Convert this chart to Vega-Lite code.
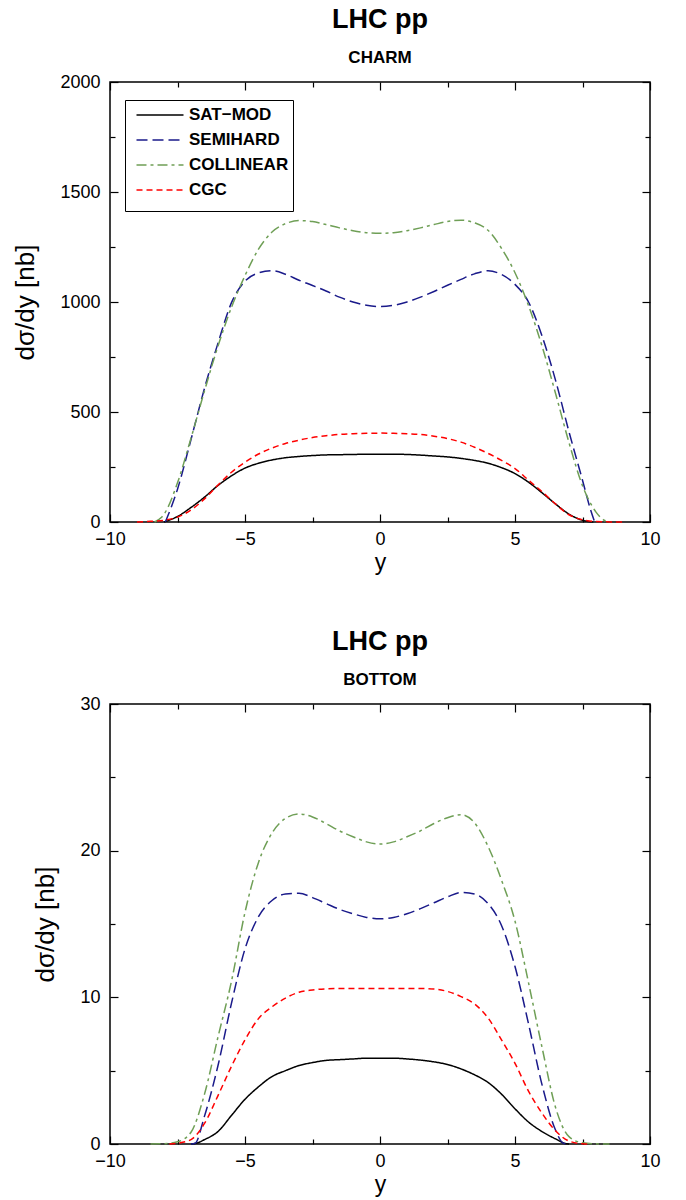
{
  "$schema": "https://vega.github.io/schema/vega-lite/v6.json",
  "padding": {"left": 12, "top": 5, "right": 10, "bottom": 0},
  "background": "white",
  "config": {
    "font": "Liberation Sans",
    "view": {"stroke": "black", "strokeWidth": 1.5},
    "axis": {
      "domain": false,
      "grid": false,
      "ticks": true,
      "zindex": 1,
      "tickColor": "black",
      "tickWidth": 1.2,
      "tickOpacity": 1,
      "tickSize": -8,
      "labelColor": "black",
      "labelFont": "Liberation Sans",
      "labelFontSize": 18,
      "titleColor": "black",
      "titleFont": "Liberation Sans",
      "titleFontSize": 26,
      "titleFontWeight": "normal"
    },
    "legend": {
      "orient": "none",
      "legendX": 15,
      "legendY": 18,
      "titleOrient": "bottom",
      "titleFontSize": 9,
      "titlePadding": 0,
      "symbolType": "M-2.35,0H2.35",
      "symbolSize": 400,
      "symbolStrokeWidth": 1.5,
      "labelFont": "Liberation Sans",
      "labelFontSize": 17,
      "labelFontWeight": "bold",
      "labelColor": "black",
      "labelOffset": 18,
      "symbolOffset": 20,
      "strokeColor": "black",
      "fillColor": "white",
      "padding": 4,
      "rowPadding": 6
    },
    "concat": {"spacing": 52}
  },
  "resolve": {"scale": {"color": "independent", "strokeDash": "independent"}},
  "datasets": {
    "charm": [
      {"model": "SAT-MOD", "x": -8, "v": 0}, {"model": "SAT-MOD", "x": -7.5, "v": 25}, {"model": "SAT-MOD", "x": -7, "v": 66}, {"model": "SAT-MOD", "x": -6.5, "v": 113}, {"model": "SAT-MOD", "x": -6, "v": 166}, {"model": "SAT-MOD", "x": -5.5, "v": 210}, {"model": "SAT-MOD", "x": -5, "v": 245}, {"model": "SAT-MOD", "x": -4.5, "v": 267}, {"model": "SAT-MOD", "x": -4, "v": 282}, {"model": "SAT-MOD", "x": -3.5, "v": 292}, {"model": "SAT-MOD", "x": -3, "v": 298}, {"model": "SAT-MOD", "x": -2.5, "v": 302}, {"model": "SAT-MOD", "x": -2, "v": 305}, {"model": "SAT-MOD", "x": -1.5, "v": 306}, {"model": "SAT-MOD", "x": -1, "v": 307}, {"model": "SAT-MOD", "x": -0.5, "v": 308}, {"model": "SAT-MOD", "x": 0, "v": 308}, {"model": "SAT-MOD", "x": 0.5, "v": 308}, {"model": "SAT-MOD", "x": 1, "v": 307}, {"model": "SAT-MOD", "x": 1.5, "v": 304}, {"model": "SAT-MOD", "x": 2, "v": 300}, {"model": "SAT-MOD", "x": 2.5, "v": 296}, {"model": "SAT-MOD", "x": 3, "v": 289}, {"model": "SAT-MOD", "x": 3.5, "v": 280}, {"model": "SAT-MOD", "x": 4, "v": 267}, {"model": "SAT-MOD", "x": 4.5, "v": 247}, {"model": "SAT-MOD", "x": 5, "v": 220}, {"model": "SAT-MOD", "x": 5.5, "v": 181}, {"model": "SAT-MOD", "x": 6, "v": 133}, {"model": "SAT-MOD", "x": 6.5, "v": 82}, {"model": "SAT-MOD", "x": 7, "v": 36}, {"model": "SAT-MOD", "x": 7.5, "v": 8}, {"model": "SAT-MOD", "x": 7.9, "v": 0},
      {"model": "SEMIHARD", "x": -7.95, "v": 0}, {"model": "SEMIHARD", "x": -7.5, "v": 149}, {"model": "SEMIHARD", "x": -7, "v": 375}, {"model": "SEMIHARD", "x": -6.5, "v": 608}, {"model": "SEMIHARD", "x": -6, "v": 813}, {"model": "SEMIHARD", "x": -5.5, "v": 997}, {"model": "SEMIHARD", "x": -5, "v": 1095}, {"model": "SEMIHARD", "x": -4.5, "v": 1132}, {"model": "SEMIHARD", "x": -4, "v": 1142}, {"model": "SEMIHARD", "x": -3.5, "v": 1126}, {"model": "SEMIHARD", "x": -3, "v": 1099}, {"model": "SEMIHARD", "x": -2.5, "v": 1075}, {"model": "SEMIHARD", "x": -2, "v": 1050}, {"model": "SEMIHARD", "x": -1.5, "v": 1022}, {"model": "SEMIHARD", "x": -1, "v": 1000}, {"model": "SEMIHARD", "x": -0.5, "v": 985}, {"model": "SEMIHARD", "x": 0, "v": 979}, {"model": "SEMIHARD", "x": 0.5, "v": 985}, {"model": "SEMIHARD", "x": 1, "v": 1000}, {"model": "SEMIHARD", "x": 1.5, "v": 1022}, {"model": "SEMIHARD", "x": 2, "v": 1048}, {"model": "SEMIHARD", "x": 2.5, "v": 1076}, {"model": "SEMIHARD", "x": 3, "v": 1103}, {"model": "SEMIHARD", "x": 3.5, "v": 1128}, {"model": "SEMIHARD", "x": 4, "v": 1142}, {"model": "SEMIHARD", "x": 4.5, "v": 1125}, {"model": "SEMIHARD", "x": 5, "v": 1080}, {"model": "SEMIHARD", "x": 5.5, "v": 1000}, {"model": "SEMIHARD", "x": 6, "v": 846}, {"model": "SEMIHARD", "x": 6.5, "v": 645}, {"model": "SEMIHARD", "x": 7, "v": 410}, {"model": "SEMIHARD", "x": 7.5, "v": 190}, {"model": "SEMIHARD", "x": 7.8, "v": 55}, {"model": "SEMIHARD", "x": 7.95, "v": 0},
      {"model": "COLLINEAR", "x": -8.35, "v": 0}, {"model": "COLLINEAR", "x": -8.1, "v": 20}, {"model": "COLLINEAR", "x": -8, "v": 35}, {"model": "COLLINEAR", "x": -7.5, "v": 178}, {"model": "COLLINEAR", "x": -7, "v": 381}, {"model": "COLLINEAR", "x": -6.5, "v": 596}, {"model": "COLLINEAR", "x": -6, "v": 800}, {"model": "COLLINEAR", "x": -5.5, "v": 976}, {"model": "COLLINEAR", "x": -5, "v": 1120}, {"model": "COLLINEAR", "x": -4.5, "v": 1240}, {"model": "COLLINEAR", "x": -4, "v": 1318}, {"model": "COLLINEAR", "x": -3.5, "v": 1356}, {"model": "COLLINEAR", "x": -3, "v": 1370}, {"model": "COLLINEAR", "x": -2.5, "v": 1366}, {"model": "COLLINEAR", "x": -2, "v": 1352}, {"model": "COLLINEAR", "x": -1.5, "v": 1337}, {"model": "COLLINEAR", "x": -1, "v": 1324}, {"model": "COLLINEAR", "x": -0.5, "v": 1315}, {"model": "COLLINEAR", "x": 0, "v": 1312}, {"model": "COLLINEAR", "x": 0.5, "v": 1315}, {"model": "COLLINEAR", "x": 1, "v": 1324}, {"model": "COLLINEAR", "x": 1.5, "v": 1337}, {"model": "COLLINEAR", "x": 2, "v": 1352}, {"model": "COLLINEAR", "x": 2.5, "v": 1366}, {"model": "COLLINEAR", "x": 3, "v": 1372}, {"model": "COLLINEAR", "x": 3.5, "v": 1360}, {"model": "COLLINEAR", "x": 4, "v": 1326}, {"model": "COLLINEAR", "x": 4.5, "v": 1244}, {"model": "COLLINEAR", "x": 5, "v": 1133}, {"model": "COLLINEAR", "x": 5.5, "v": 984}, {"model": "COLLINEAR", "x": 6, "v": 800}, {"model": "COLLINEAR", "x": 6.5, "v": 585}, {"model": "COLLINEAR", "x": 7, "v": 361}, {"model": "COLLINEAR", "x": 7.5, "v": 165}, {"model": "COLLINEAR", "x": 8, "v": 45}, {"model": "COLLINEAR", "x": 8.3, "v": 8}, {"model": "COLLINEAR", "x": 8.5, "v": 0},
      {"model": "CGC", "x": -9, "v": 0}, {"model": "CGC", "x": -8.5, "v": 3}, {"model": "CGC", "x": -8, "v": 8}, {"model": "CGC", "x": -7.5, "v": 22}, {"model": "CGC", "x": -7, "v": 55}, {"model": "CGC", "x": -6.5, "v": 105}, {"model": "CGC", "x": -6, "v": 168}, {"model": "CGC", "x": -5.5, "v": 226}, {"model": "CGC", "x": -5, "v": 272}, {"model": "CGC", "x": -4.5, "v": 309}, {"model": "CGC", "x": -4, "v": 336}, {"model": "CGC", "x": -3.5, "v": 357}, {"model": "CGC", "x": -3, "v": 372}, {"model": "CGC", "x": -2.5, "v": 384}, {"model": "CGC", "x": -2, "v": 392}, {"model": "CGC", "x": -1.5, "v": 398}, {"model": "CGC", "x": -1, "v": 401}, {"model": "CGC", "x": -0.5, "v": 403}, {"model": "CGC", "x": 0, "v": 404}, {"model": "CGC", "x": 0.5, "v": 403}, {"model": "CGC", "x": 1, "v": 401}, {"model": "CGC", "x": 1.5, "v": 398}, {"model": "CGC", "x": 2, "v": 390}, {"model": "CGC", "x": 2.5, "v": 379}, {"model": "CGC", "x": 3, "v": 363}, {"model": "CGC", "x": 3.5, "v": 340}, {"model": "CGC", "x": 4, "v": 312}, {"model": "CGC", "x": 4.5, "v": 280}, {"model": "CGC", "x": 5, "v": 243}, {"model": "CGC", "x": 5.5, "v": 190}, {"model": "CGC", "x": 6, "v": 138}, {"model": "CGC", "x": 6.5, "v": 82}, {"model": "CGC", "x": 7, "v": 33}, {"model": "CGC", "x": 7.5, "v": 10}, {"model": "CGC", "x": 8, "v": 2}, {"model": "CGC", "x": 8.5, "v": 0.5}, {"model": "CGC", "x": 9, "v": 0}
    ],
    "bottom": [
      {"model": "SAT-MOD", "x": -7, "v": 0}, {"model": "SAT-MOD", "x": -6.8, "v": 0.05}, {"model": "SAT-MOD", "x": -6.5, "v": 0.3}, {"model": "SAT-MOD", "x": -6, "v": 0.85}, {"model": "SAT-MOD", "x": -5.5, "v": 1.95}, {"model": "SAT-MOD", "x": -5, "v": 3.05}, {"model": "SAT-MOD", "x": -4.5, "v": 3.9}, {"model": "SAT-MOD", "x": -4, "v": 4.6}, {"model": "SAT-MOD", "x": -3.5, "v": 5.0}, {"model": "SAT-MOD", "x": -3, "v": 5.35}, {"model": "SAT-MOD", "x": -2.5, "v": 5.55}, {"model": "SAT-MOD", "x": -2, "v": 5.7}, {"model": "SAT-MOD", "x": -1.5, "v": 5.75}, {"model": "SAT-MOD", "x": -1, "v": 5.8}, {"model": "SAT-MOD", "x": -0.5, "v": 5.85}, {"model": "SAT-MOD", "x": 0, "v": 5.85}, {"model": "SAT-MOD", "x": 0.5, "v": 5.85}, {"model": "SAT-MOD", "x": 1, "v": 5.8}, {"model": "SAT-MOD", "x": 1.5, "v": 5.72}, {"model": "SAT-MOD", "x": 2, "v": 5.6}, {"model": "SAT-MOD", "x": 2.5, "v": 5.42}, {"model": "SAT-MOD", "x": 3, "v": 5.12}, {"model": "SAT-MOD", "x": 3.5, "v": 4.72}, {"model": "SAT-MOD", "x": 4, "v": 4.2}, {"model": "SAT-MOD", "x": 4.5, "v": 3.4}, {"model": "SAT-MOD", "x": 5, "v": 2.4}, {"model": "SAT-MOD", "x": 5.5, "v": 1.5}, {"model": "SAT-MOD", "x": 6, "v": 0.85}, {"model": "SAT-MOD", "x": 6.5, "v": 0.35}, {"model": "SAT-MOD", "x": 6.9, "v": 0.02}, {"model": "SAT-MOD", "x": 7, "v": 0},
      {"model": "SEMIHARD", "x": -7, "v": 0}, {"model": "SEMIHARD", "x": -6.85, "v": 0.05}, {"model": "SEMIHARD", "x": -6.5, "v": 1.9}, {"model": "SEMIHARD", "x": -6, "v": 5.35}, {"model": "SEMIHARD", "x": -5.5, "v": 9.6}, {"model": "SEMIHARD", "x": -5, "v": 13.3}, {"model": "SEMIHARD", "x": -4.5, "v": 15.5}, {"model": "SEMIHARD", "x": -4, "v": 16.6}, {"model": "SEMIHARD", "x": -3.5, "v": 17.05}, {"model": "SEMIHARD", "x": -3, "v": 17.1}, {"model": "SEMIHARD", "x": -2.5, "v": 16.8}, {"model": "SEMIHARD", "x": -2, "v": 16.4}, {"model": "SEMIHARD", "x": -1.5, "v": 16.0}, {"model": "SEMIHARD", "x": -1, "v": 15.7}, {"model": "SEMIHARD", "x": -0.5, "v": 15.45}, {"model": "SEMIHARD", "x": 0, "v": 15.35}, {"model": "SEMIHARD", "x": 0.5, "v": 15.45}, {"model": "SEMIHARD", "x": 1, "v": 15.7}, {"model": "SEMIHARD", "x": 1.5, "v": 16.05}, {"model": "SEMIHARD", "x": 2, "v": 16.45}, {"model": "SEMIHARD", "x": 2.5, "v": 16.85}, {"model": "SEMIHARD", "x": 3, "v": 17.15}, {"model": "SEMIHARD", "x": 3.5, "v": 17.05}, {"model": "SEMIHARD", "x": 4, "v": 16.4}, {"model": "SEMIHARD", "x": 4.5, "v": 14.9}, {"model": "SEMIHARD", "x": 5, "v": 12.1}, {"model": "SEMIHARD", "x": 5.5, "v": 8.2}, {"model": "SEMIHARD", "x": 6, "v": 4.05}, {"model": "SEMIHARD", "x": 6.5, "v": 0.95}, {"model": "SEMIHARD", "x": 6.8, "v": 0.05}, {"model": "SEMIHARD", "x": 7, "v": 0},
      {"model": "COLLINEAR", "x": -8.5, "v": 0}, {"model": "COLLINEAR", "x": -8, "v": 0.02}, {"model": "COLLINEAR", "x": -7.5, "v": 0.15}, {"model": "COLLINEAR", "x": -7, "v": 0.8}, {"model": "COLLINEAR", "x": -6.5, "v": 3.4}, {"model": "COLLINEAR", "x": -6, "v": 7.3}, {"model": "COLLINEAR", "x": -5.5, "v": 11.1}, {"model": "COLLINEAR", "x": -5, "v": 15.8}, {"model": "COLLINEAR", "x": -4.5, "v": 19.2}, {"model": "COLLINEAR", "x": -4, "v": 21.2}, {"model": "COLLINEAR", "x": -3.5, "v": 22.2}, {"model": "COLLINEAR", "x": -3, "v": 22.5}, {"model": "COLLINEAR", "x": -2.5, "v": 22.3}, {"model": "COLLINEAR", "x": -2, "v": 21.85}, {"model": "COLLINEAR", "x": -1.5, "v": 21.35}, {"model": "COLLINEAR", "x": -1, "v": 20.95}, {"model": "COLLINEAR", "x": -0.5, "v": 20.6}, {"model": "COLLINEAR", "x": 0, "v": 20.45}, {"model": "COLLINEAR", "x": 0.5, "v": 20.6}, {"model": "COLLINEAR", "x": 1, "v": 20.95}, {"model": "COLLINEAR", "x": 1.5, "v": 21.35}, {"model": "COLLINEAR", "x": 2, "v": 21.85}, {"model": "COLLINEAR", "x": 2.5, "v": 22.25}, {"model": "COLLINEAR", "x": 3, "v": 22.45}, {"model": "COLLINEAR", "x": 3.5, "v": 21.9}, {"model": "COLLINEAR", "x": 4, "v": 20.3}, {"model": "COLLINEAR", "x": 4.5, "v": 18.0}, {"model": "COLLINEAR", "x": 5, "v": 15.2}, {"model": "COLLINEAR", "x": 5.5, "v": 11.0}, {"model": "COLLINEAR", "x": 6, "v": 6.6}, {"model": "COLLINEAR", "x": 6.5, "v": 2.5}, {"model": "COLLINEAR", "x": 7, "v": 0.5}, {"model": "COLLINEAR", "x": 7.5, "v": 0.08}, {"model": "COLLINEAR", "x": 8, "v": 0.01}, {"model": "COLLINEAR", "x": 8.5, "v": 0},
      {"model": "CGC", "x": -7.8, "v": 0}, {"model": "CGC", "x": -7.5, "v": 0.05}, {"model": "CGC", "x": -7, "v": 0.3}, {"model": "CGC", "x": -6.5, "v": 1.4}, {"model": "CGC", "x": -6, "v": 3.3}, {"model": "CGC", "x": -5.5, "v": 5.3}, {"model": "CGC", "x": -5, "v": 7.1}, {"model": "CGC", "x": -4.5, "v": 8.55}, {"model": "CGC", "x": -4, "v": 9.35}, {"model": "CGC", "x": -3.5, "v": 9.95}, {"model": "CGC", "x": -3, "v": 10.35}, {"model": "CGC", "x": -2.5, "v": 10.5}, {"model": "CGC", "x": -2, "v": 10.58}, {"model": "CGC", "x": -1.5, "v": 10.6}, {"model": "CGC", "x": -1, "v": 10.6}, {"model": "CGC", "x": -0.5, "v": 10.6}, {"model": "CGC", "x": 0, "v": 10.6}, {"model": "CGC", "x": 0.5, "v": 10.6}, {"model": "CGC", "x": 1, "v": 10.6}, {"model": "CGC", "x": 1.5, "v": 10.6}, {"model": "CGC", "x": 2, "v": 10.57}, {"model": "CGC", "x": 2.5, "v": 10.4}, {"model": "CGC", "x": 3, "v": 10.05}, {"model": "CGC", "x": 3.5, "v": 9.55}, {"model": "CGC", "x": 4, "v": 8.6}, {"model": "CGC", "x": 4.5, "v": 7.1}, {"model": "CGC", "x": 5, "v": 5.5}, {"model": "CGC", "x": 5.5, "v": 3.6}, {"model": "CGC", "x": 6, "v": 2.1}, {"model": "CGC", "x": 6.5, "v": 0.9}, {"model": "CGC", "x": 7, "v": 0.2}, {"model": "CGC", "x": 7.5, "v": 0.02}, {"model": "CGC", "x": 7.8, "v": 0}
    ]
  },
  "vconcat": [
    {
      "title": {"text": "LHC pp", "subtitle": "CHARM", "fontSize": 27, "fontWeight": "bold", "subtitleFontSize": 17, "subtitleFontWeight": "bold", "subtitlePadding": 16, "offset": 6, "anchor": "middle", "color": "black", "subtitleColor": "black", "font": "Liberation Sans", "subtitleFont": "Liberation Sans"},
      "width": 540,
      "height": 440,
      "data": {"name": "charm"},
      "layer": [
        {
          "mark": {"type": "line", "strokeWidth": 1.5, "interpolate": "monotone"},
          "encoding": {
            "x": {"field": "x", "type": "quantitative", "scale": {"domain": [-10, 10], "nice": false},
              "axis": {"title": "y", "titleFontSize": 23, "values": [-10, -5, 0, 5, 10], "labelPadding": 16, "titlePadding": 3, "labelFlush": false}},
            "y": {"field": "v", "type": "quantitative", "scale": {"domain": [0, 2000], "nice": false},
              "axis": {"title": "dσ/dy [nb]", "values": [0, 500, 1000, 1500, 2000], "format": "d", "labelPadding": 18, "titlePadding": 21}},
            "color": {"field": "model", "type": "nominal", "scale": {"domain": ["SAT-MOD", "SEMIHARD", "COLLINEAR", "CGC"], "range": ["#000000", "#1a1a8a", "#6f9f56", "#ff0000"]}, "legend": {"title": " ", "labelExpr": "replace(datum.label, '-', '−')"}},
            "strokeDash": {"field": "model", "type": "nominal", "scale": {"domain": ["SAT-MOD", "SEMIHARD", "COLLINEAR", "CGC"], "range": [[1, 0], [11, 5], [10, 4, 3, 4], [6, 4]]}, "legend": {"title": " ", "labelExpr": "replace(datum.label, '-', '−')"}}
          }
        },
        {
          "mark": {"type": "point", "opacity": 0},
          "encoding": {
            "x": {"field": "x", "type": "quantitative", "axis": {"orient": "top", "title": null, "labels": false, "values": [-10, -5, 0, 5, 10]}},
            "y": {"field": "v", "type": "quantitative", "axis": {"orient": "right", "title": null, "labels": false, "values": [0, 500, 1000, 1500, 2000]}}
          }
        },
        {
          "mark": {"type": "point", "opacity": 0},
          "encoding": {
            "x": {"field": "x", "type": "quantitative", "axis": {"orient": "bottom", "title": null, "labels": false, "tickSize": -5, "values": [-7.5, -2.5, 2.5, 7.5]}},
            "y": {"field": "v", "type": "quantitative", "axis": {"orient": "left", "title": null, "labels": false, "tickSize": -5, "values": [250, 750, 1250, 1750]}}
          }
        },
        {
          "mark": {"type": "point", "opacity": 0},
          "encoding": {
            "x": {"field": "x", "type": "quantitative", "axis": {"orient": "top", "title": null, "labels": false, "tickSize": -5, "values": [-7.5, -2.5, 2.5, 7.5]}},
            "y": {"field": "v", "type": "quantitative", "axis": {"orient": "right", "title": null, "labels": false, "tickSize": -5, "values": [250, 750, 1250, 1750]}}
          }
        }
      ],
      "resolve": {"axis": {"x": "independent", "y": "independent"}}
    },
    {
      "title": {"text": "LHC pp", "subtitle": "BOTTOM", "fontSize": 27, "fontWeight": "bold", "subtitleFontSize": 17, "subtitleFontWeight": "bold", "subtitlePadding": 16, "offset": 6, "anchor": "middle", "color": "black", "subtitleColor": "black", "font": "Liberation Sans", "subtitleFont": "Liberation Sans"},
      "width": 540,
      "height": 440,
      "data": {"name": "bottom"},
      "layer": [
        {
          "mark": {"type": "line", "strokeWidth": 1.5, "interpolate": "monotone"},
          "encoding": {
            "x": {"field": "x", "type": "quantitative", "scale": {"domain": [-10, 10], "nice": false},
              "axis": {"title": "y", "titleFontSize": 23, "values": [-10, -5, 0, 5, 10], "labelPadding": 16, "titlePadding": 3, "labelFlush": false}},
            "y": {"field": "v", "type": "quantitative", "scale": {"domain": [0, 30], "nice": false},
              "axis": {"title": "dσ/dy [nb]", "values": [0, 10, 20, 30], "labelPadding": 18, "titlePadding": 21}},
            "color": {"field": "model", "type": "nominal", "scale": {"domain": ["SAT-MOD", "SEMIHARD", "COLLINEAR", "CGC"], "range": ["#000000", "#1a1a8a", "#6f9f56", "#ff0000"]}, "legend": null},
            "strokeDash": {"field": "model", "type": "nominal", "scale": {"domain": ["SAT-MOD", "SEMIHARD", "COLLINEAR", "CGC"], "range": [[1, 0], [11, 5], [10, 4, 3, 4], [6, 4]]}, "legend": null}
          }
        },
        {
          "mark": {"type": "point", "opacity": 0},
          "encoding": {
            "x": {"field": "x", "type": "quantitative", "axis": {"orient": "top", "title": null, "labels": false, "values": [-10, -5, 0, 5, 10]}},
            "y": {"field": "v", "type": "quantitative", "axis": {"orient": "right", "title": null, "labels": false, "values": [0, 10, 20, 30]}}
          }
        },
        {
          "mark": {"type": "point", "opacity": 0},
          "encoding": {
            "x": {"field": "x", "type": "quantitative", "axis": {"orient": "bottom", "title": null, "labels": false, "tickSize": -5, "values": [-7.5, -2.5, 2.5, 7.5]}},
            "y": {"field": "v", "type": "quantitative", "axis": {"orient": "left", "title": null, "labels": false, "tickSize": -5, "values": [5, 15, 25]}}
          }
        },
        {
          "mark": {"type": "point", "opacity": 0},
          "encoding": {
            "x": {"field": "x", "type": "quantitative", "axis": {"orient": "top", "title": null, "labels": false, "tickSize": -5, "values": [-7.5, -2.5, 2.5, 7.5]}},
            "y": {"field": "v", "type": "quantitative", "axis": {"orient": "right", "title": null, "labels": false, "tickSize": -5, "values": [5, 15, 25]}}
          }
        }
      ],
      "resolve": {"axis": {"x": "independent", "y": "independent"}}
    }
  ]
}
